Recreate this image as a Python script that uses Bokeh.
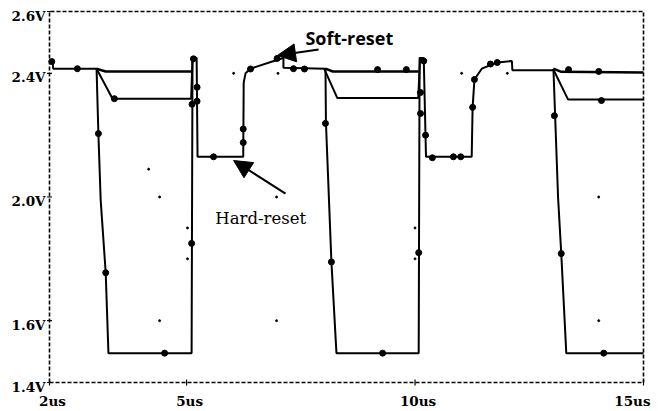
from bokeh.plotting import figure
from bokeh.models import Range1d, Label, Arrow, NormalHead, ColumnDataSource
from bokeh.core.properties import value
from bokeh.embed import file_html
from bokeh.resources import INLINE

nan = float("nan")

# ---- axis ticks ----
x_ticks = [2, 5, 10, 15]
x_tick_labels = ["2us", "5us", "10us", "15us"]
y_ticks = [2.6, 2.4, 2.0, 1.6, 1.4]
y_tick_labels = ["2.6V", "2.4V", "2.0V", "1.6V", "1.4V"]

# ---- trace A: full swing (to 1.5 V) with hard/soft reset portions ----
trace_a_t = [2.0, 2.07, 2.08, 3.03, 3.07, 3.12, 3.23, 3.29,
             5.11, 5.13, 5.22, 5.24, 6.24, 6.25, 6.29, 6.40,
             7.06, 7.12, 7.12, 8.04, 8.05, 8.17, 8.28,
             10.08, 10.10, 10.19, 10.24, 11.24, 11.26, 11.30, 11.46, 11.80, 12.12, 12.13,
             13.03, 13.13, 13.20, 13.31, 15.0]
trace_a_v = [2.44, 2.44, 2.415, 2.415, 2.205, 1.99, 1.755, 1.495,
             1.495, 2.45, 2.45, 2.13, 2.13, 2.37, 2.40, 2.415,
             2.447, 2.45, 2.418, 2.415, 2.24, 1.79, 1.495,
             1.495, 2.45, 2.45, 2.13, 2.13, 2.29, 2.38, 2.415, 2.435, 2.44, 2.41,
             2.41, 2.0, 1.817, 1.495, 1.495]

# ---- trace B: small drop to ~2.32 V ----
trace_b_t = [3.03, 3.38, 5.10, 5.13, nan, 8.01, 8.30, 10.07, 10.11, nan, 13.02, 13.35, 15.0]
trace_b_v = [2.415, 2.318, 2.318, 2.45, nan, 2.415, 2.32, 2.32, 2.45, nan, 2.415, 2.315, 2.315]

# ---- trace C: nearly flat ~2.41 V ----
trace_c_t = [3.03, 3.23, 5.11, nan, 8.04, 8.20, 10.08, nan, 13.03, 13.20, 15.0]
trace_c_v = [2.415, 2.406, 2.406, nan, 2.415, 2.406, 2.406, nan, 2.415, 2.405, 2.403]

# ---- simulation sample markers ----
marker_t = [2.05, 2.61, 3.07, 3.23, 3.42, 4.52, 5.11, 5.15, 5.12, 5.23, 5.23,
            5.59, 6.24, 6.24, 6.40, 6.98, 7.34, 7.58,
            8.04, 8.17, 9.18, 9.29, 9.81, 10.08, 10.12, 10.12, 10.23, 10.19,
            10.38, 10.84, 11.0, 11.26, 11.30, 11.65, 11.80,
            13.05, 13.20, 13.36, 14.02, 14.08, 14.13]
marker_v = [2.438, 2.415, 2.205, 1.755, 2.318, 1.495, 1.85, 2.447, 2.30, 2.31, 2.355,
            2.13, 2.176, 2.22, 2.414, 2.448, 2.415, 2.414,
            2.238, 1.79, 2.412, 1.495, 2.412, 1.82, 2.338, 2.27, 2.20, 2.44,
            2.127, 2.13, 2.13, 2.29, 2.38, 2.43, 2.435,
            2.263, 1.817, 2.412, 2.406, 2.312, 1.495]

# ---- faint grid dots ----
grid_dot_t = [4.41, 4.17, 6.03, 7.0, 6.97, 4.41, 6.97, 14.02, 11.02, 12.02, 14.02, 5.02, 5.02, 10.0, 10.0]
grid_dot_v = [2.0, 2.09, 2.40, 2.40, 2.0, 1.6, 1.6, 1.6, 2.40, 2.40, 2.0, 1.9, 1.8, 1.9, 1.8]

# ---- layout: plot box placed inside a full-canvas frame ----
W, H = 658, 411
BOX_L, BOX_R, BOX_T, BOX_B = 49, 643, 11, 382   # pixel edges of the dashed box
x0, x1 = min(x_ticks), max(x_ticks)
y0, y1 = min(y_ticks), max(y_ticks)
kx = (BOX_R - BOX_L) / (x1 - x0)
ky = (BOX_B - BOX_T) / (y1 - y0)
xr = Range1d(x0 - BOX_L / kx, x1 + (W - BOX_R) / kx)
yr = Range1d(y0 - (H - BOX_B) / ky, y1 + BOX_T / ky)

p = figure(width=W, height=H, x_range=xr, y_range=yr,
           x_axis_location=None, y_axis_location=None,
           output_backend="svg", toolbar_location=None,
           min_border=0, min_border_left=0, min_border_right=0,
           min_border_top=0, min_border_bottom=0)
p.xgrid.visible = False
p.ygrid.visible = False
p.outline_line_color = None
p.background_fill_color = "white"
p.border_fill_color = "white"

# dashed plot box
p.line([x0, x1, x1, x0, x0], [y0, y0, y1, y1, y0], line_color="black",
       line_width=1.6, line_dash="4 2")
# small tick marks
p.scatter(x_ticks, [y0] * len(x_ticks), marker="dash", angle=1.5708, size=6,
          line_color="black", line_width=1.2)
p.scatter([x0] * len(y_ticks), y_ticks, marker="dash", size=5,
          line_color="black", line_width=1.2)

# tick labels
n = len(x_ticks)
xlab = ColumnDataSource(dict(
    x=x_ticks, y=[y0] * n, text=x_tick_labels,
    align=["center"] * (n - 1) + ["right"],
    xoff=[3] * (n - 1) + [7],
))
p.text(x="x", y="y", text="text", source=xlab, text_align="align", x_offset="xoff",
       y_offset=18, text_baseline="middle", text_font=value("DejaVu Serif"),
       text_font_style="bold", text_font_size="13.5px", text_color="black")
ylab = ColumnDataSource(dict(x=[x0] * len(y_ticks), y=y_ticks, text=y_tick_labels))
p.text(x="x", y="y", text="text", source=ylab, text_align="right", x_offset=-4,
       y_offset=4, text_baseline="middle", text_font=value("DejaVu Serif"),
       text_font_style="bold", text_font_size="13.5px", text_color="black")

p.scatter(grid_dot_t, grid_dot_v, size=2, color="black", marker="circle")
p.line(trace_a_t, trace_a_v, line_color="black", line_width=2)
p.line(trace_b_t, trace_b_v, line_color="black", line_width=2)
p.line(trace_c_t, trace_c_v, line_color="black", line_width=2.5)
p.scatter(marker_t, marker_v, size=6, marker="circle", color="black")

# annotations
p.add_layout(Arrow(end=NormalHead(size=18, fill_color="black", line_color="black"),
                   x_start=7.89, y_start=2.477, x_end=6.99, y_end=2.458,
                   line_color="black", line_width=2))
p.add_layout(Arrow(end=NormalHead(size=18, fill_color="black", line_color="black"),
                   x_start=7.165, y_start=2.011, x_end=6.03, y_end=2.118,
                   line_color="black", line_width=2))
p.add_layout(Label(x=7.60, y=2.513, text="Soft-reset", text_baseline="middle",
                   text_font="Open Sans", text_font_style="bold", text_font_size="18px",
                   text_color="black"))
p.add_layout(Label(x=5.63, y=1.93, text="Hard-reset", text_baseline="middle",
                   text_font="DejaVu Serif", text_font_size="16.5px", text_color="black"))

open("out.html", "w").write(file_html(p, INLINE))
